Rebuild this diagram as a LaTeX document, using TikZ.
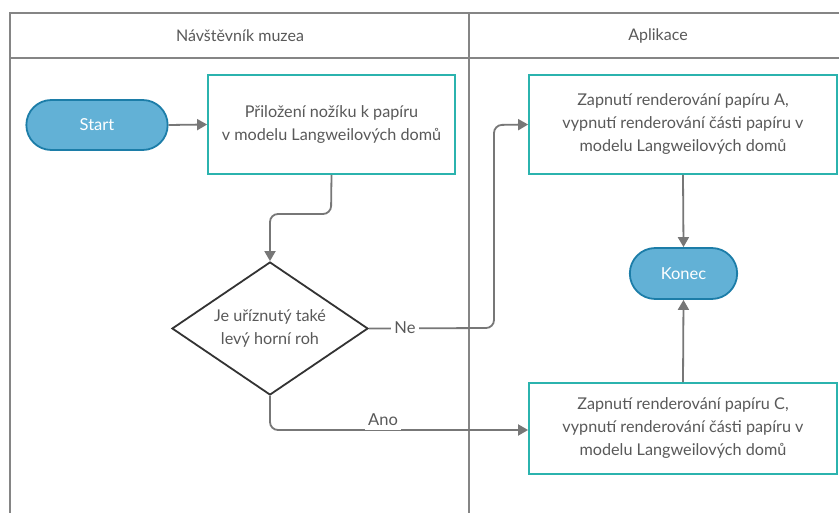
\documentclass[tikz,border=0pt]{standalone}
\usepackage{fontspec}
\setmainfont{Lato}
\usetikzlibrary{shapes.geometric,shapes.misc,arrows.meta}
\definecolor{lanegray}{HTML}{858585}
\definecolor{linegray}{HTML}{777777}
\definecolor{txtgray}{HTML}{595959}
\definecolor{tealb}{HTML}{2BB3AE}
\definecolor{termfill}{HTML}{62B1D6}
\definecolor{termdraw}{HTML}{1C7DA8}
\tikzset{
  lane/.style={draw=lanegray,line width=1.8pt},
  procbox/.style={draw=tealb,line width=1.8pt,fill=white,minimum width=#1,align=center,text=txtgray,font=\fontsize{16.2}{23}\selectfont},
  termbox/.style={draw=termdraw,line width=1.8pt,fill=termfill,rounded rectangle,text=white,font=\fontsize{16.5}{18}\selectfont},
  decbox/.style={draw=black!80,line width=1.8pt,fill=white,diamond,aspect=1.47,inner sep=0pt,minimum width=196pt,minimum height=133pt,align=center,text=txtgray,font=\fontsize{16.2}{23}\selectfont},
  conn/.style={draw=linegray,line width=1.8pt,-{Triangle[length=10pt,width=11pt]},rounded corners=8pt},
  lbl/.style={fill=white,text=txtgray,font=\fontsize{16.5}{18}\selectfont,inner sep=3pt},
  hdr/.style={text=txtgray,font=\fontsize{16}{18}\selectfont}
}
\begin{document}
\begin{tikzpicture}[x=1pt,y=-1pt]
\useasboundingbox (0,0) rectangle (839,513);
\fill[white] (0,0) rectangle (839,513);
% lanes
\draw[lane] (850,13) -- (10,13) -- (10,520);
\draw[lane] (10,58) -- (850,58);
\draw[lane] (469,13) -- (469,520);
\node[hdr] (h1) at (240,36) {Návštěvník muzea};
\node[hdr] (h2) at (658,36) {Aplikace};
% nodes
\node[termbox,minimum width=148pt,minimum height=50pt] (start) at (97,125) {Start};
\node[procbox=247pt,minimum height=99pt] (b1) at (331.5,124.5) {Přiložení nožíku k papíru\\v modelu Langweilových domů};
\node[decbox] (dec) at (270,328.5) {Je uříznutý také\\levý horní roh};
\node[procbox=308pt,minimum height=99pt] (ba) at (683,124.5) {Zapnutí renderování papíru A,\\vypnutí renderování části papíru v\\modelu Langweilových domů};
\node[termbox,minimum width=114pt,minimum height=51pt] (konec) at (683.5,273.5) {Konec};
\node[procbox=308pt,minimum height=91pt] (bc) at (683,428.5) {Zapnutí renderování papíru C,\\vypnutí renderování části papíru v\\modelu Langweilových domů};
% connectors
\draw[conn] (start.east) -- (b1.west);
\draw[conn] (b1.south) -- (331,214) -- (270,214) -- (dec.north);
\draw[conn] (dec.east) -- (494,328) -- (494,125) -- (ba.west);
\draw[conn] (dec.south) -- (270,430) -- (bc.west |- 0,430);
\draw[conn] (ba.south) -- (konec.north);
\draw[conn] (bc.north) -- (konec.south);
\node[lbl] (ne) at (405,328) {Ne};
\node[lbl,inner ysep=4pt] (ano) at (383,420) {Ano};
\end{tikzpicture}
\end{document}
